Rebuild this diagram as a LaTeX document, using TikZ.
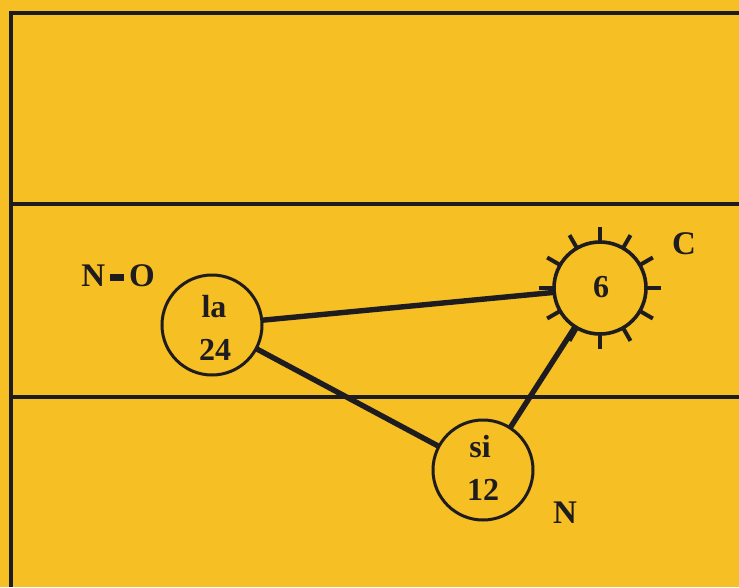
\documentclass[tikz,border=0pt]{standalone}
\usepackage{fontspec}
\setmainfont{Liberation Serif}
\definecolor{bgyellow}{RGB}{246,191,36}
\definecolor{ink}{RGB}{30,28,30}
\begin{document}
\begin{tikzpicture}[x=1pt,y=-1pt,
  frame/.style={draw=ink,line width=3.2pt},
  circ/.style={circle,draw=ink,line width=3pt,minimum size=100pt,inner sep=0pt,outer sep=0pt},
  suncirc/.style={circle,draw=ink,line width=3.6pt,minimum size=92pt,inner sep=0pt,outer sep=0pt},
  conn/.style={draw=ink,line width=5.4pt},
  ray/.style={draw=ink,line width=4pt},
  txt/.style={font=\fontsize{32}{36}\selectfont\bfseries,text=ink,inner sep=0pt,anchor=base},
  lbl/.style={font=\fontsize{33}{36}\selectfont\bfseries,text=ink,inner sep=0pt}]
\useasboundingbox (0,0) rectangle (739,587);
\fill[bgyellow] (0,0) rectangle (739,587);
% frame lines
\draw[frame] (11,587) -- (11,13) -- (739,13);
\draw[frame] (11,204) -- (739,204);
\draw[frame] (11,397) -- (739,397);
% circles
\node[circ] (la) at (212,325) {};
\node[circ] (si) at (483,470) {};
\node[suncirc] (sun) at (600,288) {};
\foreach \a in {0,30,...,330} \draw[ray] (sun.\a) -- ++(-\a:15);
% connectors
\draw[conn] (la) -- (sun);
\draw[conn] (la) -- (si);
\draw[conn] (si) -- (sun);
% texts in circles
\node[txt] (tla) at (214,317) {la};
\node[txt] (t24) at (215,360) {24};
\node[txt] (tsi) at (480,457) {si};
\node[txt] (t12) at (483,500) {12};
\node[txt] (t6) at (601,297) {6};
% outer labels
\node[lbl] (no) at (118,276) {N\hspace{5pt}\rule[6pt]{14pt}{6.5pt}\hspace{5pt}O};
\node[lbl] (c) at (684,244) {C};
\node[lbl] (n) at (565,513) {N};
\end{tikzpicture}
\end{document}
